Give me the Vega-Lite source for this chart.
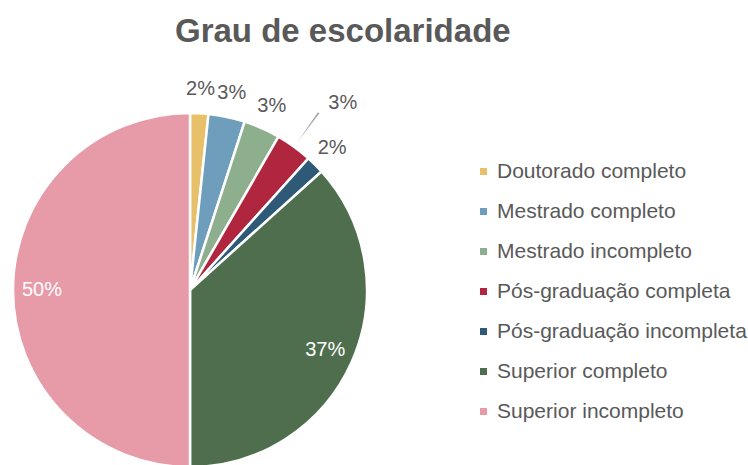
{
  "$schema": "https://vega.github.io/schema/vega-lite/v6.json",
  "autosize": {"type": "none"},
  "width": 354,
  "height": 354,
  "padding": {"left": 13, "top": 113, "right": 381, "bottom": 0},
  "background": "white",
  "title": {
    "text": "Grau de escolaridade",
    "font": "Liberation Sans",
    "fontSize": 33,
    "fontWeight": "bold",
    "color": "#595959",
    "anchor": "start",
    "frame": "group",
    "dx": 162,
    "offset": 22
  },
  "data": {
    "values": [
      {"categoria": "Doutorado completo", "parte": 0.0167},
      {"categoria": "Mestrado completo", "parte": 0.0333},
      {"categoria": "Mestrado incompleto", "parte": 0.0333},
      {"categoria": "Pós-graduação completa", "parte": 0.0333},
      {"categoria": "Pós-graduação incompleta", "parte": 0.0167},
      {"categoria": "Superior completo", "parte": 0.3667},
      {"categoria": "Superior incompleto", "parte": 0.5}
    ]
  },
  "encoding": {
    "theta": {"field": "parte", "type": "quantitative", "stack": true}
  },
  "layer": [
    {
      "mark": {"type": "arc", "stroke": "white", "strokeWidth": 2.5},
      "encoding": {
        "color": {
          "field": "categoria",
          "type": "nominal",
          "sort": null,
          "scale": {
            "domain": ["Doutorado completo", "Mestrado completo", "Mestrado incompleto", "Pós-graduação completa", "Pós-graduação incompleta", "Superior completo", "Superior incompleto"],
            "range": ["#E8C06A", "#6E9EBB", "#8EAF8E", "#B0263F", "#2E5A78", "#4E6E4E", "#E79AA8"]
          },
          "legend": {
            "title": null,
            "orient": "none",
            "legendX": 460,
            "legendY": 48,
            "padding": 0,
            "symbolType": "square",
            "symbolSize": 49,
            "symbolStrokeWidth": 0,
            "labelFont": "Liberation Sans",
            "labelFontSize": 21,
            "labelColor": "#595959",
            "labelOffset": 3,
            "rowPadding": 18,
            "labelLimit": 400
          }
        },
        "order": {"field": "categoria", "sort": "ascending"}
      }
    },
    {
      "mark": {
        "type": "arc",
        "fill": "#A6A6A6",
        "innerRadius": 183,
        "outerRadius": 219,
        "padAngle": 0.1536,
        "opacity": {"expr": "datum.categoria == 'Pós-graduação completa' ? 1 : 0"}
      },
      "encoding": {
        "order": {"field": "categoria", "sort": "ascending"}
      }
    },
    {
      "mark": {
        "type": "text",
        "font": "Liberation Sans",
        "fontSize": 20,
        "radius": {"expr": "datum.parte > 0.1 ? 148 : (datum.categoria == 'Pós-graduação completa' ? 231 : 201)"},
        "dx": {"expr": "datum.categoria == 'Pós-graduação completa' ? 17 : 0"}
      },
      "encoding": {
        "text": {"field": "parte", "type": "quantitative", "format": ".0%"},
        "color": {
          "condition": {"test": "datum.parte > 0.1", "value": "#FFFFFF"},
          "value": "#595959"
        },
        "order": {"field": "categoria", "sort": "ascending"}
      }
    }
  ]
}
